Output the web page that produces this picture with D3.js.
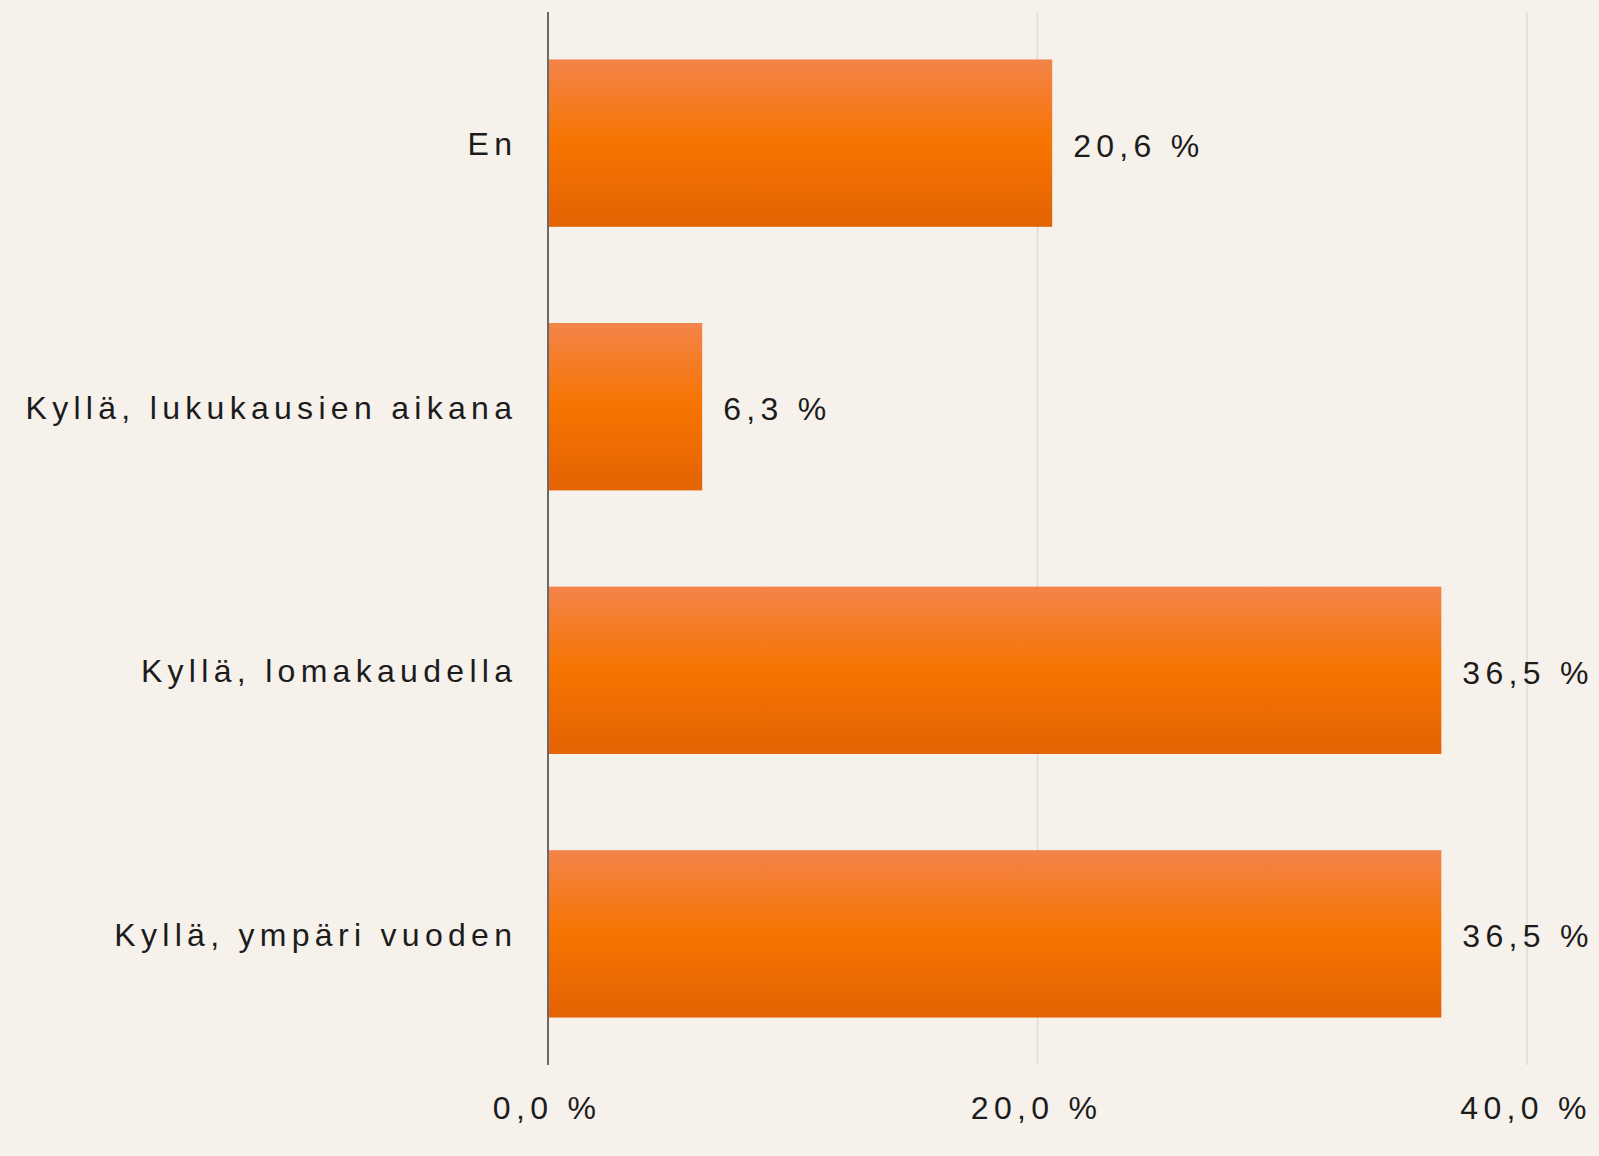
<!DOCTYPE html>
<html>
<head>
<meta charset="utf-8">
<script src="https://cdn.jsdelivr.net/npm/d3@7"></script>
<style>
  html, body { margin: 0; padding: 0; background: #f6f1eb; }
  svg text { font-family: "Liberation Sans", Arial, sans-serif; fill: #1c1c1c; }
</style>
</head>
<body>
<svg width="1599" height="1156"></svg>
<script>
// data
var categories = ["En", "Kyllä, lukukausien aikana", "Kyllä, lomakaudella", "Kyllä, ympäri vuoden"];
var values = [20.6, 6.3, 36.5, 36.5];
var ticks = [0, 20, 40];

var svg = d3.select("svg"),
    margin = {top: 12, right: 72, bottom: 91, left: 548},
    width = 1599 - margin.left - margin.right,
    height = 1156 - margin.top - margin.bottom,
    g = svg.append("g").attr("transform", "translate(" + margin.left + "," + margin.top + ")");

var fmt = function (v, dec) {
    return v.toFixed(dec).replace(".", ",") + " %";
};

var x = d3.scaleLinear().domain([0, 40]).range([0, 979]);
var y = d3.scaleBand().domain(categories).range([0, height])
    .paddingInner(0.365).paddingOuter(0.18);

// gradient for the bars
var grad = svg.append("defs").append("linearGradient")
    .attr("id", "barGrad")
    .attr("x1", 0).attr("y1", 0).attr("x2", 0).attr("y2", 1);
grad.append("stop").attr("offset", "0%").attr("stop-color", "#f3844a");
grad.append("stop").attr("offset", "50%").attr("stop-color", "#f77400");
grad.append("stop").attr("offset", "100%").attr("stop-color", "#e36303");

// gridlines
g.append("g")
    .selectAll("line")
    .data(ticks.slice(1))
    .enter().append("line")
    .attr("x1", function (d) { return x(d); })
    .attr("x2", function (d) { return x(d); })
    .attr("y1", 0)
    .attr("y2", height)
    .attr("stroke", "#dcdcdc")
    .attr("stroke-width", 1.5);

// bars
g.selectAll(".bar")
    .data(values)
    .enter().append("rect")
    .attr("class", "bar")
    .attr("x", x(0))
    .attr("y", function (d, i) { return y(categories[i]); })
    .attr("width", function (d) { return x(d) - x(0); })
    .attr("height", y.bandwidth())
    .attr("fill", "url(#barGrad)");

// value labels
g.selectAll(".val")
    .data(values)
    .enter().append("text")
    .attr("class", "val")
    .attr("x", function (d) { return x(d) + 21; })
    .attr("y", function (d, i) { return y(categories[i]) + y.bandwidth() / 2; })
    .attr("dy", "0.42em")
    .style("font-size", "32px")
    .style("letter-spacing", "5.3px")
    .text(function (d) { return fmt(d, 1); });

// category labels
g.selectAll(".cat")
    .data(categories)
    .enter().append("text")
    .attr("class", "cat")
    .attr("x", -36 + 5.3)
    .attr("y", function (d) { return y(d) + y.bandwidth() / 2; })
    .attr("dy", "0.38em")
    .attr("text-anchor", "end")
    .style("font-size", "32px")
    .style("letter-spacing", "5.3px")
    .text(function (d) { return d; });

// y axis line
g.append("line")
    .attr("x1", x(0)).attr("x2", x(0))
    .attr("y1", 0).attr("y2", height)
    .attr("stroke", "#6a6a6a")
    .attr("stroke-width", 2);

// x tick labels
g.selectAll(".tick-label")
    .data(ticks)
    .enter().append("text")
    .attr("class", "tick-label")
    .attr("x", function (d) { return x(d) - 1; })
    .attr("y", height + 54)
    .attr("text-anchor", "middle")
    .style("font-size", "32px")
    .style("letter-spacing", "5.3px")
    .text(function (d) { return fmt(d, 1); });
</script>
</body>
</html>
